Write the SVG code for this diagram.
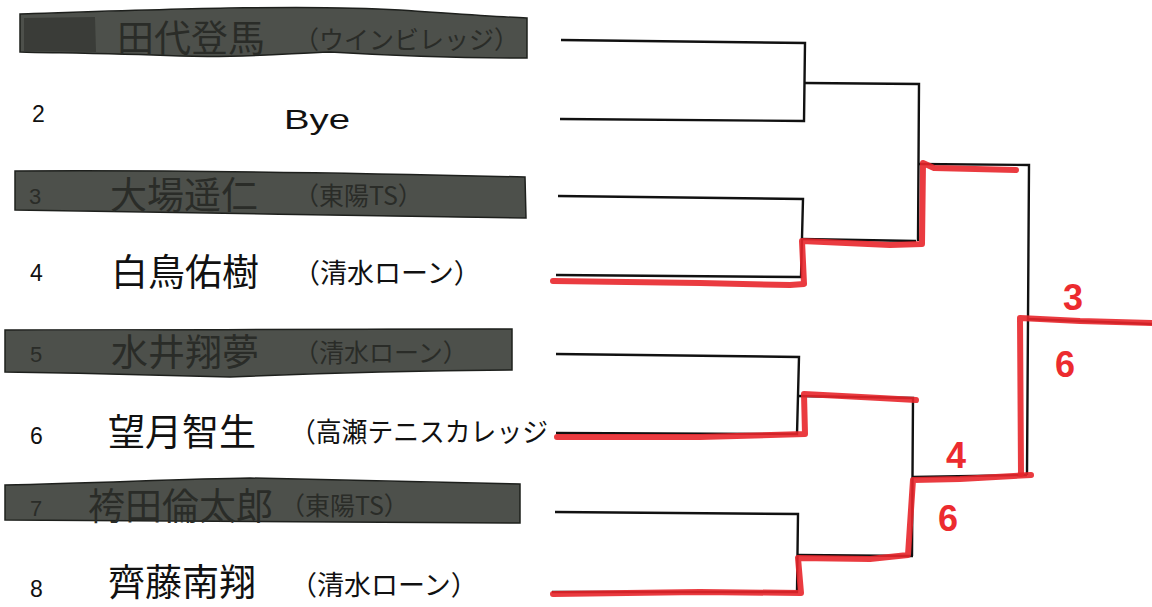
<svg xmlns="http://www.w3.org/2000/svg" width="1152" height="607" viewBox="0 0 1152 607">
<style>
.bar{fill:#4d504b;stroke:#1e201d;stroke-width:1.5}
.num{font-family:"Liberation Sans",Arial,sans-serif;font-size:23px;fill:#111}
.bnum{font-family:"Liberation Sans",Arial,sans-serif;font-size:22px;fill:#2a2c28}
.name{font-family:"Noto Sans CJK JP","Noto Sans CJK SC",sans-serif;font-size:37px;fill:#111}
.bname{font-family:"Noto Sans CJK JP","Noto Sans CJK SC",sans-serif;font-size:37px;fill:#2a2c28}
.club{font-family:"Noto Sans CJK JP","Noto Sans CJK SC",sans-serif;font-size:27px;fill:#111}
.bclub{font-family:"Noto Sans CJK JP","Noto Sans CJK SC",sans-serif;font-size:25px;fill:#2a2c28}
.ln{fill:none;stroke:#111;stroke-width:2.4}
.red{fill:none;stroke:#e8262b;stroke-width:6;stroke-linecap:round;stroke-linejoin:round;opacity:0.9}
.score{font-family:"Liberation Sans",Arial,sans-serif;font-weight:bold;font-size:36px;fill:#ec2b2f}
</style>
<rect width="1152" height="607" fill="#fff"/>

<g id="p1">
<path class="bar" d="M20,14 C150,10 300,4 400,10 C460,14 500,17 527,18 L527,58 C450,58 380,55 330,52 C280,54 240,58 180,56 C100,53 50,53 20,52 Z"/>
<path d="M24,18 L95,17 L96,52 L24,51 Z" fill="#3a3c38"/>
<text class="bname" x="117" y="52">田代登馬</text>
<text class="bclub" x="294" y="49">（ウインビレッジ）</text>
</g>
<g id="p2">
<text class="num" x="32" y="122">2</text>
<text x="284" y="129" font-family="Liberation Sans,Arial,sans-serif" font-size="28" fill="#111" textLength="66" lengthAdjust="spacingAndGlyphs">Bye</text>
</g>
<g id="p3">
<path class="bar" d="M15,171 C180,170 360,173 525,177 L526,218 C360,216 180,212 15,210 Z"/>
<text class="bnum" x="29" y="204">3</text>
<text class="bname" x="110" y="209">大場遥仁</text>
<text class="bclub" x="294" y="205">（東陽TS）</text>
</g>
<g id="p4">
<text class="num" x="30" y="281">4</text>
<text class="name" x="111" y="286">白鳥佑樹</text>
<text class="club" x="293" y="283">（清水ローン）</text>
</g>
<g id="p5">
<path class="bar" d="M5,330 C180,331 330,328 512,329 L512,370 C380,371 300,374 230,377 C150,375 80,373 5,372 Z"/>
<text class="bnum" x="30" y="362">5</text>
<text class="bname" x="111" y="366">水井翔夢</text>
<text class="bclub" x="294" y="362">（清水ローン）</text>
</g>
<g id="p6">
<text class="num" x="30" y="444">6</text>
<text class="name" x="108" y="446">望月智生</text>
<text class="club" x="290" y="442" textLength="258" lengthAdjust="spacingAndGlyphs">（高瀬テニスカレッジ</text>
</g>
<g id="p7">
<path class="bar" d="M5,485 C100,483 180,479 250,478 C350,480 440,483 520,484 L520,523 C350,522 180,521 5,520 Z"/>
<text class="bnum" x="30" y="516">7</text>
<text class="bname" x="88" y="520">袴田倫太郎</text>
<text class="bclub" x="280" y="515">（東陽TS）</text>
</g>
<g id="p8">
<text class="num" x="30" y="597">8</text>
<text class="name" x="108" y="596" font-size="35">齊藤南翔</text>
<text class="club" x="290" y="595">（清水ローン）</text>
</g>

<g id="connectors">
<path class="ln" d="M561,40 L805,43 L804,121 L560,119"/>
<path class="ln" d="M805,83 L919,84 L918,241"/>
<path class="ln" d="M558,196 L803,199 L801,277 L556,275"/>
<path class="ln" d="M801,239 L916,241"/>
<path class="ln" d="M918,164 L1029,165 L1027,475"/>
<path class="ln" d="M556,354 L799,357 L797,434 L556,433"/>
<path class="ln" d="M797,396 L913,398 L912,556"/>
<path class="ln" d="M555,512 L798,514 L797,592 L552,592"/>
<path class="ln" d="M797,555 L913,556"/>
<path class="ln" d="M913,477 L1027,475"/>
<path class="ln" d="M1027,319 L1152,324"/>
</g>

<g id="red-marks">
<path class="red" d="M553,281 L700,283 L790,285 L804,284 L802,241 L890,245 L922,244 L923,163 L934,168 L1016,170"/>
<path class="red" d="M557,437 L700,437 L805,434 L804,394 L880,398 L916,400"/>
<path class="red" d="M553,594 L700,592 L801,593 L798,558 L870,559 L908,555 L913,480 L960,479 L1031,475"/>
<path class="red" d="M1021,474 L1020,318 L1080,321 L1152,323"/>
<text class="score" x="1063" y="310">3</text>
<text class="score" x="1055" y="377">6</text>
<text class="score" x="946" y="468">4</text>
<text class="score" x="938" y="531">6</text>
</g>
</svg>
